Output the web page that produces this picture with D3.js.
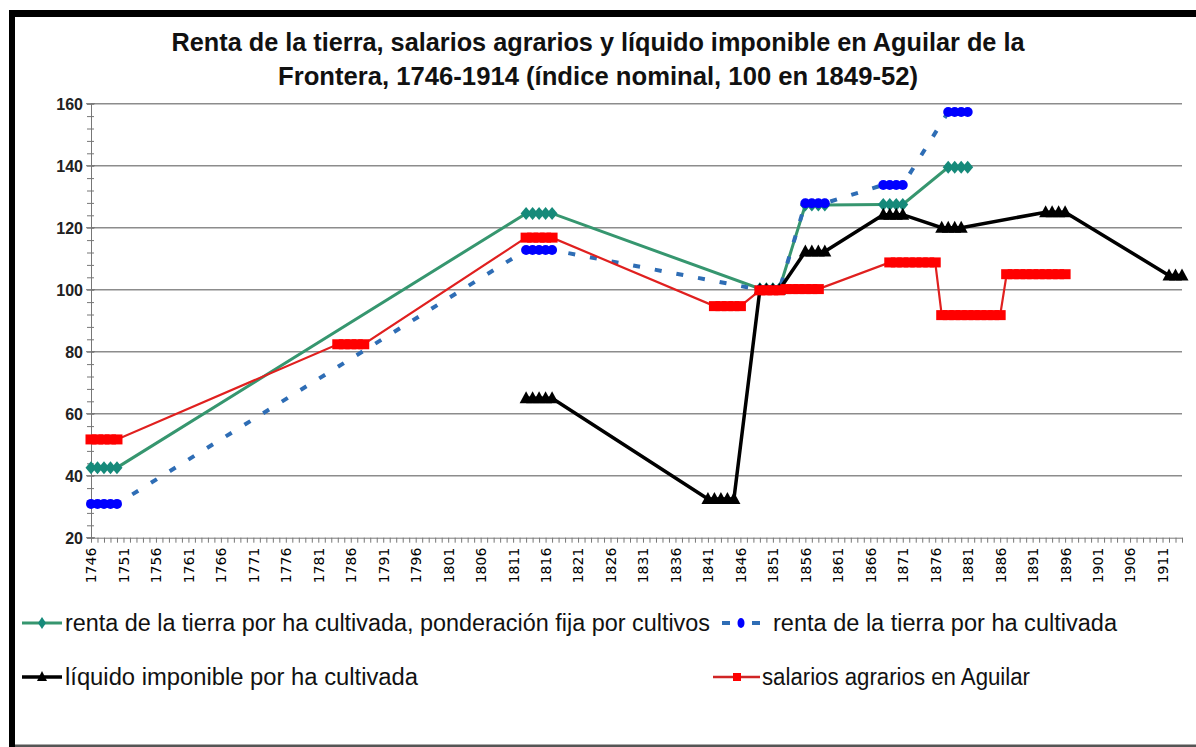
<!DOCTYPE html>
<html>
  <head>
    <meta charset="utf-8">
    <script src="https://cdn.jsdelivr.net/npm/d3@7"></script>
    <style>
        body { margin: 0; background: #fff; }
        svg { display: block; }
    </style>
  </head>

  <body>
    <div id="my_dataviz"></div>
  </body>

  <script>

    // categories: one per year on the x axis
    let firstYear = 1746, lastYear = 1914;
    let yTickValues = [20, 40, 60, 80, 100, 120, 140, 160];

    // [year, index value]
    let rentaFija = [
        [1746, 42.6], [1747, 42.6], [1748, 42.6], [1749, 42.6], [1750, 42.6],
        [1813, 124.6], [1814, 124.6], [1815, 124.6], [1816, 124.6], [1817, 124.6],
        [1849, 100.3], [1850, 100.3], [1851, 100.3], [1852, 100.3],
        [1856, 127.3], [1857, 127.3], [1858, 127.3], [1859, 127.3],
        [1868, 127.5], [1869, 127.5], [1870, 127.5], [1871, 127.5],
        [1878, 139.5], [1879, 139.5], [1880, 139.5], [1881, 139.5]
    ];

    let renta = [
        [1746, 30.9], [1747, 30.9], [1748, 30.9], [1749, 30.9], [1750, 30.9],
        [1813, 112.8], [1814, 112.8], [1815, 112.8], [1816, 112.8], [1817, 112.8],
        [1849, 100], [1850, 100], [1851, 100], [1852, 100],
        [1856, 127.9], [1857, 127.9], [1858, 127.9], [1859, 127.9],
        [1868, 133.8], [1869, 133.8], [1870, 133.8], [1871, 133.8],
        [1878, 157.3], [1879, 157.3], [1880, 157.3], [1881, 157.3]
    ];

    let liquido = [
        [1813, 65], [1814, 65], [1815, 65], [1816, 65], [1817, 65],
        [1841, 32.5], [1842, 32.5], [1843, 32.5], [1844, 32.5], [1845, 32.5],
        [1849, 100], [1850, 100], [1851, 100], [1852, 100],
        [1856, 112.3], [1857, 112.3], [1858, 112.3], [1859, 112.3],
        [1868, 124.2], [1869, 124.2], [1870, 124.2], [1871, 124.2],
        [1877, 120], [1878, 120], [1879, 120], [1880, 120],
        [1893, 125], [1894, 125], [1895, 125], [1896, 125],
        [1912, 104.6], [1913, 104.6], [1914, 104.6]
    ];

    let salarios = [
        [1746, 51.7], [1747, 51.7], [1748, 51.7], [1749, 51.7], [1750, 51.7],
        [1784, 82.4], [1785, 82.4], [1786, 82.4], [1787, 82.4], [1788, 82.4],
        [1813, 116.8], [1814, 116.8], [1815, 116.8], [1816, 116.8], [1817, 116.8],
        [1842, 94.7], [1843, 94.7], [1844, 94.7], [1845, 94.7], [1846, 94.7],
        [1849, 99.8], [1850, 99.8], [1851, 99.8], [1852, 99.8],
        [1853, 100.2], [1854, 100.2], [1855, 100.2], [1856, 100.2], [1857, 100.2], [1858, 100.2],
        [1869, 108.8], [1870, 108.8], [1871, 108.8], [1872, 108.8],
        [1873, 108.8], [1874, 108.8], [1875, 108.8], [1876, 108.8],
        [1877, 91.8], [1878, 91.8], [1879, 91.8], [1880, 91.8], [1881, 91.8],
        [1882, 91.8], [1883, 91.8], [1884, 91.8], [1885, 91.8], [1886, 91.8],
        [1887, 105], [1888, 105], [1889, 105], [1890, 105], [1891, 105],
        [1892, 105], [1893, 105], [1894, 105], [1895, 105], [1896, 105]
    ];

    let titleLines = [
        "Renta de la tierra, salarios agrarios y líquido imponible en Aguilar de la",
        "Frontera, 1746-1914 (índice  nominal, 100 en 1849-52)"
    ];

    let legendNames = [
        "renta de la tierra por ha cultivada, ponderación fija por cultivos",
        "renta de la tierra por ha cultivada",
        "líquido imponible por ha cultivada",
        "salarios agrarios en Aguilar"
    ];

    let width = 1196, height = 747;
    let plot = {left: 91, right: 1182, top: 103.7, bottom: 537.7};

    let svg = d3.select("#my_dataviz")
                .append("svg")
                    .attr("width", width)
                    .attr("height", height);

    svg.append("rect")
       .attr("width", width).attr("height", height)
       .attr("fill", "#fff");

    // frame
    svg.append("rect").attr("x", 9).attr("y", 10).attr("width", 6).attr("height", 737).attr("fill", "#000");
    svg.append("rect").attr("x", 9).attr("y", 10).attr("width", 1187).attr("height", 7).attr("fill", "#000");
    svg.append("rect").attr("x", 15).attr("y", 744.5).attr("width", 1181).attr("height", 2.5).attr("fill", "#555");

    // title
    svg.selectAll(".title")
       .data(titleLines)
       .enter()
       .append("text")
         .attr("x", 598)
         .attr("y", function(d, i) { return 51 + i * 34 })
         .attr("text-anchor", "middle")
         .attr("font-family", "Liberation Sans, Arial, sans-serif")
         .attr("font-weight", "bold")
         .attr("font-size", 25)
         .attr("textLength", function(d, i) { return i == 0 ? 853 : 640 })
         .attr("lengthAdjust", "spacingAndGlyphs")
         .attr("fill", "#111")
         .text(function(d) { return d });

    let x = d3.scaleLinear()
              .domain([firstYear, lastYear])
              .range([plot.left, plot.right]);

    let y = d3.scaleLinear()
              .domain([20, 160])
              .range([plot.bottom, plot.top]);

    // gridlines
    svg.append("g")
       .selectAll("line")
       .data(yTickValues.slice(1))
       .enter()
       .append("line")
         .attr("x1", plot.left).attr("x2", plot.right)
         .attr("y1", function(d) { return y(d) })
         .attr("y2", function(d) { return y(d) })
         .attr("stroke", "#8c8c8c")
         .attr("stroke-width", 1.4);

    // y axis, minor ticks every 4
    let yAxis = svg.append("g")
       .attr("transform", "translate(" + plot.left + ",0)")
       .call(d3.axisLeft(y)
               .tickValues(d3.range(20, 161, 4))
               .tickSize(4)
               .tickFormat(""));
    yAxis.selectAll("line").attr("x1", 3).attr("stroke", "#777");
    yAxis.select(".domain").attr("stroke", "#777");

    svg.append("g")
       .selectAll("line")
       .data(yTickValues)
       .enter()
       .append("line")
         .attr("x1", plot.left - 5).attr("x2", plot.left + 4)
         .attr("y1", function(d) { return y(d) })
         .attr("y2", function(d) { return y(d) })
         .attr("stroke", "#777");

    svg.append("g")
       .selectAll("text")
       .data(yTickValues)
       .enter()
       .append("text")
         .attr("x", 83)
         .attr("y", function(d) { return y(d) + 6 })
         .attr("text-anchor", "end")
         .attr("font-family", "Liberation Sans Narrow, Arial Narrow, Liberation Sans, sans-serif")
         .attr("font-size", 16)
         .attr("font-weight", "bold")
         .attr("fill", "#222")
         .text(function(d) { return d });

    // x axis, a tick per year, label every 5
    let xAxis = svg.append("g")
       .attr("transform", "translate(0," + plot.bottom + ")")
       .call(d3.axisBottom(x)
               .tickValues(d3.range(firstYear, lastYear + 1))
               .tickSize(5)
               .tickSizeOuter(0)
               .tickFormat(function(d) { return (d - firstYear) % 5 == 0 ? d : "" }));
    xAxis.selectAll("line").attr("stroke", "#777");
    xAxis.select(".domain").attr("stroke", "#777");
    xAxis.selectAll("text")
         .attr("font-family", "DejaVu Sans, sans-serif")
         .attr("font-size", 14)
         .attr("fill", "#000")
         .attr("text-anchor", "end")
         .attr("transform", "rotate(-90)")
         .attr("x", -10)
         .attr("y", 0)
         .attr("dy", "0.35em");

    let line = d3.line()
                 .x(function(d) { return x(d[0]) })
                 .y(function(d) { return y(d[1]) });

    let diamond = "M0,-6.5L5.5,0L0,6.5L-5.5,0Z";
    let triangle = "M0,-7L6.5,5L-6.5,5Z";

    // renta, ponderación fija
    svg.append("path")
       .datum(rentaFija)
       .attr("fill", "none")
       .attr("stroke", "#36966f")
       .attr("stroke-width", 3)
       .attr("d", line);
    svg.append("g")
       .selectAll("path")
       .data(rentaFija)
       .enter()
       .append("path")
         .attr("d", diamond)
         .attr("transform", function(d) { return "translate(" + x(d[0]) + "," + y(d[1]) + ")" })
         .attr("fill", "#168a7a");

    // renta
    svg.append("path")
       .datum(renta)
       .attr("fill", "none")
       .attr("stroke", "#2e6db5")
       .attr("stroke-width", 4)
       .attr("stroke-dasharray", "7,15")
       .attr("d", line);
    svg.append("g")
       .selectAll("ellipse")
       .data(renta)
       .enter()
       .append("ellipse")
         .attr("cx", function(d) { return x(d[0]) })
         .attr("cy", function(d) { return y(d[1]) })
         .attr("rx", 5)
         .attr("ry", 5)
         .attr("fill", "#0000ff");

    // líquido imponible
    svg.append("path")
       .datum(liquido)
       .attr("fill", "none")
       .attr("stroke", "#000")
       .attr("stroke-width", 3.5)
       .attr("d", line);
    svg.append("g")
       .selectAll("path")
       .data(liquido)
       .enter()
       .append("path")
         .attr("d", triangle)
         .attr("transform", function(d) { return "translate(" + x(d[0]) + "," + y(d[1]) + ")" })
         .attr("fill", "#000");

    // salarios
    svg.append("path")
       .datum(salarios)
       .attr("fill", "none")
       .attr("stroke", "#e0201f")
       .attr("stroke-width", 2.2)
       .attr("d", line);
    svg.append("g")
       .selectAll("rect")
       .data(salarios)
       .enter()
       .append("rect")
         .attr("x", function(d) { return x(d[0]) - 5.5 })
         .attr("y", function(d) { return y(d[1]) - 5 })
         .attr("width", 11)
         .attr("height", 10)
         .attr("fill", "#ff0000");

    // legend
    let lg = svg.append("g");
    lg.append("line").attr("x1", 22).attr("x2", 62).attr("y1", 623).attr("y2", 623)
      .attr("stroke", "#36966f").attr("stroke-width", 3);
    lg.append("path").attr("d", "M0,-6L4,0L0,6L-4,0Z").attr("transform", "translate(42,623)").attr("fill", "#168a7a");

    lg.append("line").attr("x1", 722).attr("x2", 730).attr("y1", 623).attr("y2", 623)
      .attr("stroke", "#2e6db5").attr("stroke-width", 4);
    lg.append("line").attr("x1", 752).attr("x2", 760).attr("y1", 623).attr("y2", 623)
      .attr("stroke", "#2e6db5").attr("stroke-width", 4);
    lg.append("ellipse").attr("cx", 741).attr("cy", 623).attr("rx", 3.5).attr("ry", 5).attr("fill", "#0000ff");

    lg.append("line").attr("x1", 22).attr("x2", 62).attr("y1", 677).attr("y2", 677)
      .attr("stroke", "#000").attr("stroke-width", 3.5);
    lg.append("path").attr("d", "M0,-6L5,4L-5,4Z").attr("transform", "translate(42,677)").attr("fill", "#000");

    lg.append("line").attr("x1", 713).attr("x2", 760).attr("y1", 677).attr("y2", 677)
      .attr("stroke", "#d02525").attr("stroke-width", 2.5);
    lg.append("rect").attr("x", 733).attr("y", 673).attr("width", 8).attr("height", 8).attr("fill", "#ff0000");

    let legendPos = [[65, 631, 645], [773, 631, 344], [65, 685, 353], [762, 685, 268]];

    lg.selectAll("text")
      .data(legendNames)
      .enter()
      .append("text")
        .attr("x", function(d, i) { return legendPos[i][0] })
        .attr("y", function(d, i) { return legendPos[i][1] })
        .attr("textLength", function(d, i) { return legendPos[i][2] })
        .attr("lengthAdjust", "spacingAndGlyphs")
        .attr("font-family", "Liberation Sans, Arial, sans-serif")
        .attr("font-size", 23)
        .attr("fill", "#111")
        .text(function(d) { return d });

  </script>

</html>
